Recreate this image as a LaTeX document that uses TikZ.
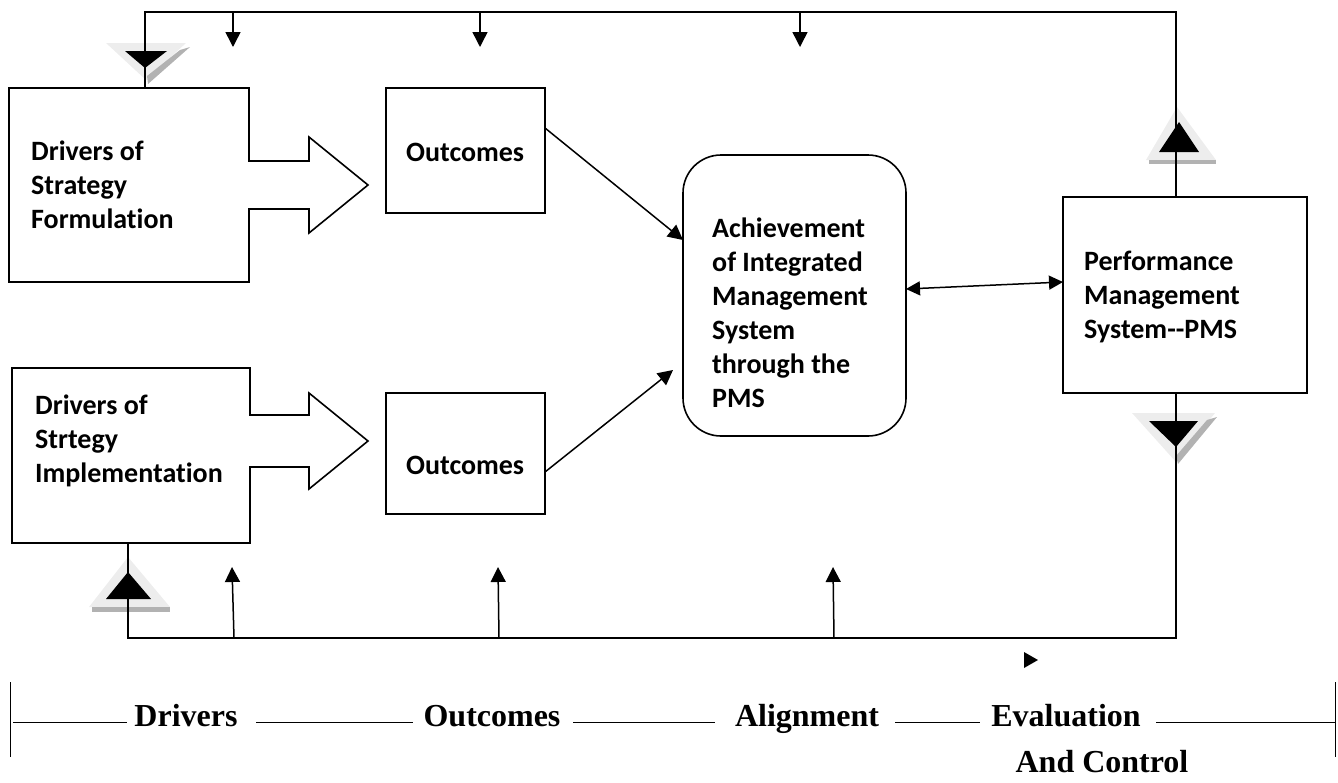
\documentclass[tikz,border=0pt]{standalone}
\usepackage{fontspec}
\setmainfont{Carlito}[Ligatures={NoCommon}]
\newfontfamily\axisfont{Liberation Serif}
\usetikzlibrary{arrows.meta}
\newcommand\mystack[1]{\vtop{\baselineskip=34pt\halign{##\hfil\cr#1\crcr}}}
\begin{document}
\begin{tikzpicture}[x=1pt,y=-1pt,
  box/.style={draw, line width=1.6pt, inner sep=0pt, outer sep=0pt, anchor=north west},
  shapeline/.style={draw, line width=1.6pt},
  lbl/.style={font=\fontsize{28}{34}\selectfont\bfseries, inner sep=0pt, anchor=base west},
  ax/.style={font=\axisfont\fontsize{32}{38}\selectfont\bfseries, inner sep=0pt, anchor=base},
  conn/.style={line width=1.5pt},
  arr/.style={conn, -{Triangle[width=15pt,length=15pt]}},
  dbl/.style={conn, {Triangle[width=14pt,length=14pt]}-{Triangle[width=14pt,length=14pt]}},
  light/.style={fill=black!7},
  hatch/.style={fill=black!30},
  dark/.style={fill=black}]
\useasboundingbox (0,0) rectangle (1338,782);

% ---- block-arrow boxes (drivers)
\draw[shapeline] (9,88) -- (249,88) -- (249,161) -- (309,161) -- (309,137) -- (368,185) -- (309,233) -- (309,209) -- (249,209) -- (249,282) -- (9,282) -- cycle;
\draw[shapeline] (12,368) -- (250,368) -- (250,415) -- (309,415) -- (309,393) -- (368,441) -- (309,489) -- (309,467) -- (250,467) -- (250,543) -- (12,543) -- cycle;
\node[lbl] (d1t) at (31,160) {\mystack{Drivers of\cr Strategy\cr Formulation}};
\node[lbl] (d2t) at (35,414) {\mystack{Drivers of\cr Strtegy\cr Implementation}};
\coordinate (d1top) at (145,88);
\coordinate (d2bot) at (128,543);

% ---- outcome boxes
\node[box, minimum width=159pt, minimum height=125pt] (o1) at (386,88) {};
\node[box, minimum width=159pt, minimum height=121pt] (o2) at (386,393) {};
\node[lbl] (o1t) at (406,161) {Outcomes};
\node[lbl] (o2t) at (406,474) {Outcomes};

% ---- central rounded box
\node[box, rounded corners=38pt, minimum width=223pt, minimum height=281pt] (c) at (683,155) {};
\node[lbl] (ct) at (712,237) {\mystack{Achievement\cr of Integrated\cr Management\cr System\cr through the\cr PMS}};

% ---- PMS box
\node[box, minimum width=244pt, minimum height=196pt] (p) at (1063,197) {};
\node[lbl] (pt) at (1084,270) {\mystack{Performance\cr Management\cr System-{}-PMS}};
\coordinate (ptop) at (1176,197);
\coordinate (pbot) at (1176,393);

% ---- triangles (markers on the feedback loops)
\fill[light] (106,43) -- (186,43) -- (146,80) -- cycle;
\fill[hatch] (180,50) -- (190,47) -- (148,84) -- (147,76) -- cycle;
\fill[dark] (125,51) -- (167,51) -- (145,68) -- cycle;

\fill[light] (1146,160) -- (1216,160) -- (1177,107) -- cycle;
\fill[hatch] (1149,160) rectangle (1216,164);
\fill[dark] (1159,152) -- (1199,152) -- (1179,122) -- cycle;

\fill[light] (1132,413) -- (1215,413) -- (1176,462) -- cycle;
\fill[hatch] (1207,420) -- (1217,417) -- (1178,464) -- (1176,456) -- cycle;
\fill[dark] (1149,421) -- (1198,421) -- (1176,447) -- cycle;

\fill[light] (89,607) -- (170,607) -- (128,557) -- cycle;
\fill[hatch] (92,607) rectangle (170,612);
\fill[dark] (106,599) -- (151,599) -- (128,572) -- cycle;

% ---- feedback loops
\coordinate (tr) at (1176,12);
\coordinate (tl) at (145,12);
\draw[conn] (ptop) -- (tr) -- (tl) -- (d1top);
\coordinate (br) at (1176,638);
\coordinate (bl) at (128,638);
\draw[conn] (pbot) -- (br) -- (bl) -- (d2bot);

\foreach \i/\x in {1/233,2/480,3/800}{
  \coordinate (ta\i) at (\x,12);
  \coordinate (tb\i) at (\x,47);
  \draw[arr] (ta\i) -- (tb\i);
}
\coordinate (ua1) at (234,638); \coordinate (ub1) at (232,567);
\coordinate (ua2) at (499,638); \coordinate (ub2) at (498,567);
\coordinate (ua3) at (834,638); \coordinate (ub3) at (833,567);
\foreach \i in {1,2,3}{ \draw[arr] (ua\i) -- (ub\i); }

% ---- flows into the central box
\coordinate (o1s) at (545,128);
\coordinate (o2s) at (545,472);
\coordinate (c1) at (683,240);
\coordinate (c2) at (673,370);
\draw[arr] (o1s) -- (c1);
\draw[arr] (o2s) -- (c2);
\coordinate (cr) at (906,289);
\coordinate (pl) at (1063,282);
\draw[dbl] (cr) -- (pl);

% ---- small pointer
\fill (1024,652) -- (1038,660) -- (1024,668) -- cycle;

% ---- stage axis
\draw[line width=0.8pt] (10,682) -- (10,757);
\draw[line width=0.8pt] (1335,682) -- (1335,757);
\draw[line width=1pt] (13,722) -- (127,722);
\draw[line width=1pt] (256,722) -- (413,722);
\draw[line width=1pt] (573,722) -- (715,722);
\draw[line width=1pt] (895,722) -- (980,722);
\draw[line width=1pt] (1156,722) -- (1335,722);
\node[ax] (s1) at (186,726) {Drivers};
\node[ax] (s2) at (492,726) {Outcomes};
\node[ax] (s3) at (807,726) {Alignment};
\node[ax] (s4) at (1066,726) {Evaluation};
\node[ax] (s5) at (1102,772) {And Control};
\end{tikzpicture}
\end{document}
